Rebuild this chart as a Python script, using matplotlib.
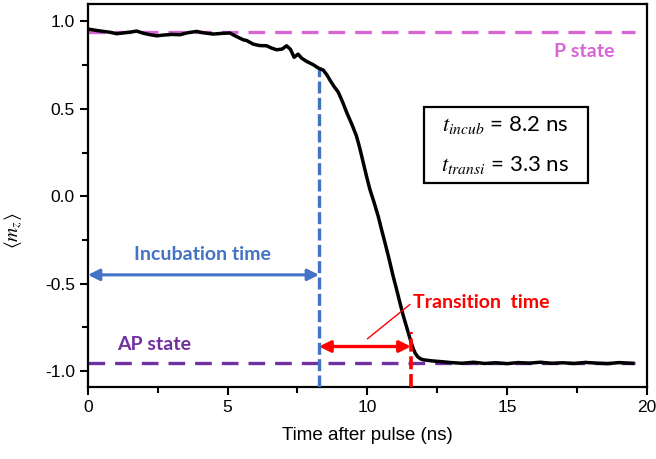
import matplotlib
matplotlib.use("Agg")
import matplotlib.pyplot as plt
from matplotlib.ticker import MultipleLocator

plt.rcParams['font.family'] = ['Liberation Sans', 'DejaVu Sans']
plt.rcParams['mathtext.fontset'] = 'stix'

# ---- data ----
time_ns = [0.0, 0.25, 0.55, 0.8, 1.03, 1.3, 1.55, 1.74, 2.0, 2.2, 2.46, 2.7, 3.0, 3.29, 3.55,
           3.89, 4.1, 4.48, 4.8, 5.08, 5.3, 5.56, 5.68, 5.92, 6.15, 6.39, 6.57, 6.75, 6.95,
           7.11, 7.25, 7.38, 7.52, 7.65, 7.82, 8.06, 8.24, 8.42, 8.55, 8.66, 8.8, 8.96, 9.1,
           9.26, 9.45, 9.61, 9.73, 9.85, 9.97, 10.09, 10.25, 10.39, 10.5, 10.63, 10.78, 10.92,
           11.05, 11.16, 11.28, 11.40, 11.50, 11.58, 11.65, 11.72, 11.80, 11.90, 12.0,
           12.3, 12.6, 13.0, 13.4, 13.8, 14.2, 14.6, 15.0, 15.4, 15.8, 16.2, 16.6, 17.0,
           17.4, 17.8, 18.2, 18.6, 19.0, 19.5]
mz = [0.957, 0.950, 0.943, 0.938, 0.930, 0.935, 0.940, 0.945, 0.932, 0.925, 0.918, 0.922, 0.926,
      0.924, 0.935, 0.943, 0.936, 0.928, 0.932, 0.934, 0.915, 0.895, 0.891, 0.870, 0.862, 0.861,
      0.848, 0.838, 0.842, 0.861, 0.840, 0.795, 0.813, 0.790, 0.772, 0.753, 0.734, 0.722, 0.695,
      0.665, 0.630, 0.595, 0.545, 0.480, 0.410, 0.345, 0.275, 0.195, 0.115, 0.040, -0.040,
      -0.115, -0.185, -0.265, -0.360, -0.455, -0.535, -0.605, -0.680, -0.745, -0.800, -0.843,
      -0.875, -0.900, -0.918, -0.930, -0.936,
      -0.942, -0.946, -0.952, -0.956, -0.950, -0.957, -0.953,
      -0.958, -0.952, -0.955, -0.950, -0.956, -0.953, -0.957, -0.951, -0.955, -0.958, -0.952, -0.956]

p_state = 0.94
ap_state = -0.955
state_xmax = 19.57
t_incub_line = 8.27
t_switch_line = 11.56
mz_at_incub = 0.73
mz_at_switch = -0.775
incub_arrow_y = -0.45
transi_arrow_y = -0.86

BLUE = '#4472c4'
MAGENTA = '#d865d8'
PURPLE = '#7030a0'
RED = '#ff0000'

fig = plt.figure(figsize=(6.56, 4.59), dpi=100)
ax = fig.add_axes([0.1341, 0.1575, 0.8517, 0.8338])

# state lines
ax.plot([0, state_xmax], [p_state, p_state], color=MAGENTA, lw=2.4, dashes=(5, 3), zorder=2)
ax.plot([0, state_xmax], [ap_state, ap_state], color=PURPLE, lw=2.4, dashes=(5, 3), zorder=2)

# curve
ax.plot(time_ns, mz, color='black', lw=2.5, zorder=4, solid_joinstyle='round')

# vertical markers
ax.plot([t_incub_line, t_incub_line], [-1.09, mz_at_incub], color=BLUE, lw=2.4,
        dashes=(3.6, 1.3), zorder=3)
ax.plot([t_switch_line, t_switch_line], [-1.09, mz_at_switch], color=RED, lw=2.6,
        dashes=(3.6, 1.3), zorder=5)

# arrows
ax.annotate('', xy=(0, incub_arrow_y), xytext=(t_incub_line, incub_arrow_y),
            arrowprops=dict(arrowstyle='<|-|>', color=BLUE, lw=2.2, mutation_scale=17,
                            shrinkA=0, shrinkB=0), zorder=6)
ax.annotate('', xy=(t_incub_line, transi_arrow_y), xytext=(t_switch_line, transi_arrow_y),
            arrowprops=dict(arrowstyle='<|-|>', color=RED, lw=2.4, mutation_scale=17,
                            shrinkA=0, shrinkB=0), zorder=6)
ax.plot([10.01, 11.52], [-0.815, -0.62], color=RED, lw=1.0, zorder=6)

# labels
lab = dict(fontfamily=['Lato', 'DejaVu Sans'], fontweight='bold', fontsize=14)
ax.text(4.11, -0.334, 'Incubation time', color=BLUE, ha='center', va='center', **lab)
ax.text(2.38, -0.847, 'AP state', color=PURPLE, ha='center', va='center', **lab)
ax.text(17.75, 0.829, 'P state', color=MAGENTA, ha='center', va='center', **lab)
ax.text(11.63, -0.607, 'Transition  time', color=RED, ha='left', va='center', **lab)

ax.text(14.96, 0.293, '  $t_{incub}$ = 8.2 ns   \n\n  $t_{transi}$ = 3.3 ns   ', ha='center',
        va='center', fontfamily=['Lato', 'DejaVu Sans'], fontsize=16, linespacing=0.95,
        bbox=dict(boxstyle='square,pad=0.3', fc='white', ec='black', lw=1.6))

ax.set_xlim(0, 20)
ax.set_ylim(-1.09, 1.10)
ax.xaxis.set_minor_locator(MultipleLocator(2.5))
ax.yaxis.set_minor_locator(MultipleLocator(0.25))
ax.set_xticks([0, 5, 10, 15, 20])
ax.set_xticklabels(['0', '5', '10', '15', '20'])
ax.set_yticks([-1.0, -0.5, 0.0, 0.5, 1.0])
ax.set_yticklabels(['-1.0', '-0.5', '0.0', '0.5', '1.0'])
ax.tick_params(which='major', direction='out', length=6, width=1.5, labelsize=12.5,
               top=False, right=False)
ax.tick_params(which='minor', direction='out', length=4, width=1.5, top=False, right=False)
for s in ax.spines.values():
    s.set_linewidth(1.6)

ax.set_xlabel('Time after pulse (ns)', fontsize=13.5, labelpad=9)
fig.text(0.021, 0.497, r'$\langle m_z \rangle$', rotation=90, ha='center', va='center', fontsize=14)

fig.savefig('out.png', dpi=100)
